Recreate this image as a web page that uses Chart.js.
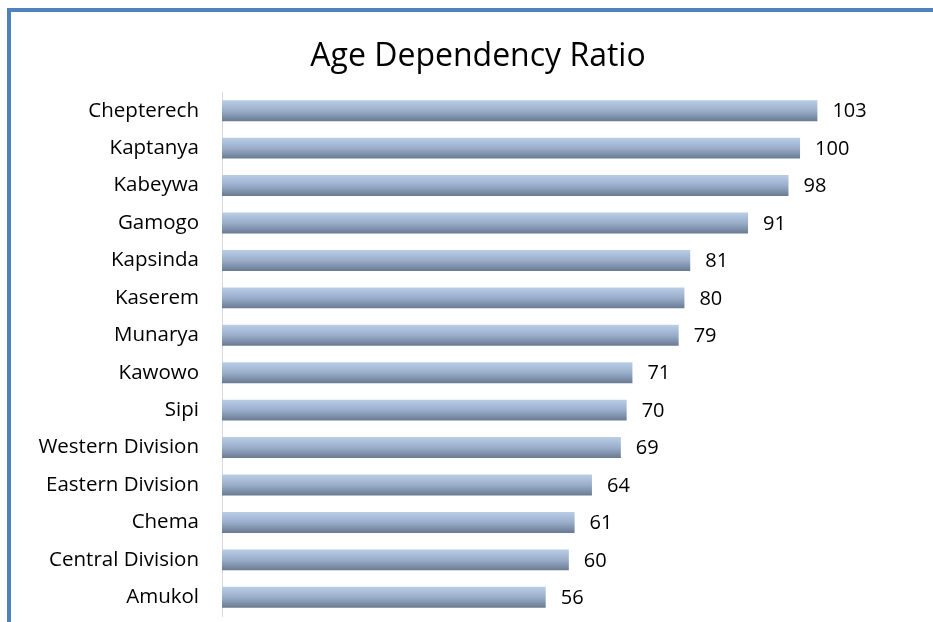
<!DOCTYPE html>
<html lang="en">
<head>
  <meta charset="UTF-8">
  <title>Age Dependency Ratio</title>
  <script src="https://cdnjs.cloudflare.com/ajax/libs/Chart.js/4.4.1/chart.umd.min.js"></script>
  <style>
  body {
    margin: 0;
    background: #fff;
  }
  #frame {
    position: absolute;
    left: 7px;
    top: 8px;
    width: 922px;
    height: 610px;
    border-top: 4px solid #4f81bd;
    border-left: 4px solid #4f81bd;
  }
  canvas {
    display: block;
  }
  </style>
</head>
<body>
<div id="frame"><canvas id="myChart" width="922" height="610"></canvas></div>
<script>
    const areas = ['Chepterech', 'Kaptanya', 'Kabeywa', 'Gamogo', 'Kapsinda', 'Kaserem', 'Munarya',
      'Kawowo', 'Sipi', 'Western Division', 'Eastern Division', 'Chema', 'Central Division', 'Amukol'];
    const ratios = [103, 100, 98, 91, 81, 80, 79, 71, 70, 69, 64, 61, 60, 56];

    const FONT = "'Open Sans', sans-serif";

    // vertical gradient per bar, light blue on top to slate at the bottom
    function barFill(c) {
      const chart = c.chart;
      const y = chart.scales.y;
      if (!chart.chartArea || !y || c.type !== 'data') return '#94a7c4';
      const mid = y.getPixelForValue(c.dataIndex);
      const g = chart.ctx.createLinearGradient(0, mid - 11, 0, mid + 11);
      g.addColorStop(0, '#bccfe8');
      g.addColorStop(0.5, '#9aaecb');
      g.addColorStop(1, '#67778e');
      return g;
    }

    const value_labels = {
      id: 'value_labels',
      afterDatasetsDraw: (chart) => {
        const ctx = chart.ctx;
        ctx.save();
        ctx.font = '20px ' + FONT;
        ctx.fillStyle = '#000';
        ctx.textAlign = 'left';
        ctx.textBaseline = 'middle';
        chart.getDatasetMeta(0).data.forEach((bar, i) => {
          ctx.fillText(ratios[i], bar.x + 15, bar.y + 1);
        });
        ctx.restore();
      }
    };

    var ctx = document.getElementById('myChart');
    var myChart = new Chart(ctx, {
        type: 'bar',
        data: {
          labels: areas,
          datasets: [{
            label: 'Age Dependency Ratio',
            data: ratios,
            backgroundColor: barFill,
            borderWidth: 0,
            barPercentage: 0.56,
            categoryPercentage: 1
          }]
        },
        plugins: [value_labels],
        options: {
          indexAxis: 'y',
          responsive: false,
          animation: false,
          layout: {padding: {left: 12, right: 0, top: 0, bottom: 6}},
          scales: {
            x: {
              display: false,
              min: 0,
              max: 123
            },
            y: {
              grid: {display: false, drawTicks: false},
              border: {display: true, color: '#d9d9d9', width: 1},
              ticks: {
                color: '#000',
                padding: 23,
                font: {size: 20.5, family: FONT}
              },
              afterFit: (scale) => {
                scale.width = 199;
                // no extra room above/below for the end labels
                scale.paddingTop = 0;
                scale.paddingBottom = 0;
              }
            }
          },
          plugins: {
            legend: {display: false},
            tooltip: {enabled: false},
            title: {
              display: true,
              text: 'Age Dependency Ratio',
              color: '#000',
              font: {size: 32, family: FONT, weight: 'normal', lineHeight: 1.2},
              padding: {top: 26, bottom: 15.6}
            }
          }
        }
      });
</script>
</body>
</html>
